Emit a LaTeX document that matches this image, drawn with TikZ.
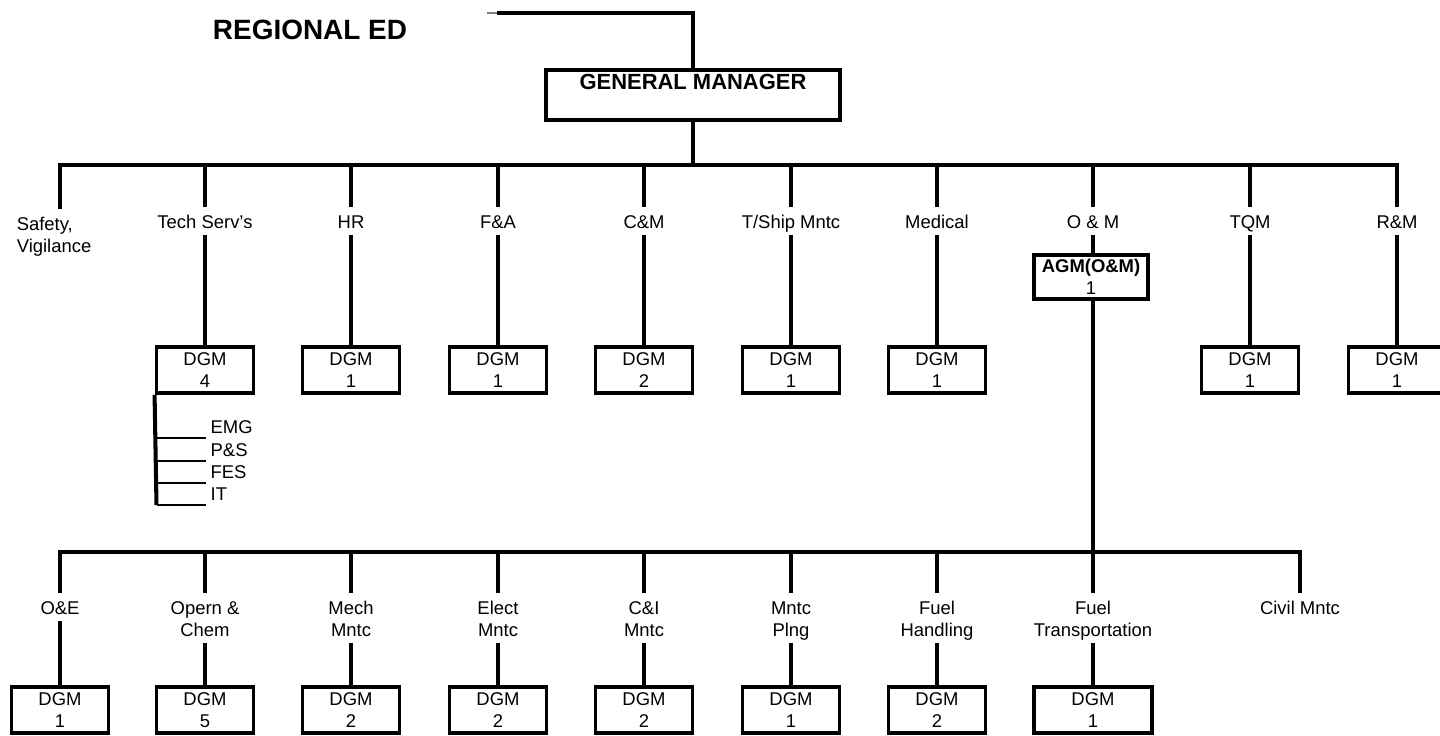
\documentclass[tikz,border=0pt]{standalone}
\usepackage{fontspec}
\setmainfont{Liberation Sans}

\newcommand{\lblfont}{\fontsize{10.5pt}{12.5pt}\selectfont}

\begin{document}
\begin{tikzpicture}[x=0.02cm, y=-0.02cm, line width=2.3pt,
            lbl/.style={align=center, inner xsep=1pt, inner ysep=0pt, font=\lblfont, text height=11.1pt, text depth=2.3pt},
            lbltwo/.style={lbl, text height=23.6pt},
            dgm/.style={draw, line width=2.2pt, align=center, inner sep=0pt, minimum width=1.94cm, minimum height=0.92cm, font=\lblfont},
            sub/.style={anchor=south west, inner sep=1.5pt, font=\lblfont}]
            \useasboundingbox (0,0) rectangle (1440,736);

            \coordinate (tick) at (487, 13);
            \coordinate (top1) at (497, 13);
            \coordinate (top2) at (693, 13);
            \coordinate (tm) at (693, 165);
            \coordinate (t1) at (60, 165);
            \coordinate (t2) at (205, 165);
            \coordinate (t3) at (351, 165);
            \coordinate (t4) at (498, 165);
            \coordinate (t5) at (644, 165);
            \coordinate (t6) at (791, 165);
            \coordinate (t7) at (937, 165);
            \coordinate (t8) at (1093, 165);
            \coordinate (t9) at (1250, 165);
            \coordinate (t10) at (1397, 165);
            \coordinate (b1) at (60, 552);
            \coordinate (b2) at (205, 552);
            \coordinate (b3) at (351, 552);
            \coordinate (b4) at (498, 552);
            \coordinate (b5) at (644, 552);
            \coordinate (b6) at (791, 552);
            \coordinate (b7) at (937, 552);
            \coordinate (b8) at (1093, 552);
            \coordinate (b9) at (1300, 552);
            \coordinate (s1) at (156.5, 438);
            \coordinate (s2) at (156.5, 461);
            \coordinate (s3) at (156.5, 483);
            \coordinate (s4) at (156.5, 505);

            \node[font=\fontsize{15.9pt}{18pt}\selectfont\bfseries] (ed) at (310, 30) {REGIONAL ED};
            \node[draw, line width=2.2pt, minimum width=5.88cm, inner xsep=0pt, inner ysep=2.3pt, text depth=14.7pt,
                  font=\fontsize{12.5pt}{15pt}\selectfont\bfseries] (gm) at (693, 95) {GENERAL MANAGER};

            \node[lbltwo, align=left, anchor=north west] (lsafety) at (13, 209) {Safety,\\Vigilance};
            \node[lbl] (ltech) at (205, 221) {Tech Serv's};
            \node[lbl] (lhr) at (351, 221) {HR};
            \node[lbl] (lfa) at (498, 221) {F\&A};
            \node[lbl] (lcm) at (644, 221) {C\&M};
            \node[lbl] (ltship) at (791, 221) {T/Ship Mntc};
            \node[lbl] (lmed) at (937, 221) {Medical};
            \node[lbl] (lom) at (1093, 221) {O \& M};
            \node[lbl] (ltqm) at (1250, 221) {TQM};
            \node[lbl] (lrm) at (1397, 221) {R\&M};

            \node[dgm] (dtech) at (205, 370) {DGM\\4};
            \node[dgm] (dhr) at (351, 370) {DGM\\1};
            \node[dgm] (dfa) at (498, 370) {DGM\\1};
            \node[dgm] (dcm) at (644, 370) {DGM\\2};
            \node[dgm] (dtship) at (791, 370) {DGM\\1};
            \node[dgm] (dmed) at (937, 370) {DGM\\1};
            \node[dgm] (dtqm) at (1250, 370) {DGM\\1};
            \node[dgm] (drm) at (1397, 370) {DGM\\1};
            \node[dgm, minimum width=2.28cm, minimum height=0.88cm] (agm) at (1091, 277) {\textbf{AGM(O\&M)}\\1};

            \node[sub] (emg) at (206, 438) {EMG};
            \node[sub] (ps) at (206, 461) {P\&S};
            \node[sub] (fes) at (206, 483) {FES};
            \node[sub] (it) at (206, 505) {IT};

            \node[lbl] (loe) at (60, 607) {O\&E};
            \node[lbltwo] (lopern) at (205, 618) {Opern \&\\Chem};
            \node[lbltwo] (lmech) at (351, 618) {Mech\\Mntc};
            \node[lbltwo] (lelect) at (498, 618) {Elect\\Mntc};
            \node[lbltwo] (lci) at (644, 618) {C\&I\\Mntc};
            \node[lbltwo] (lplng) at (791, 618) {Mntc\\Plng};
            \node[lbltwo] (lfuelh) at (937, 618) {Fuel\\Handling};
            \node[lbltwo] (lfuelt) at (1093, 618) {Fuel\\Transportation};
            \node[lbl] (lcivil) at (1300, 607) {Civil Mntc};

            \node[dgm] (doe) at (60, 710) {DGM\\1};
            \node[dgm] (dopern) at (205, 710) {DGM\\5};
            \node[dgm] (dmech) at (351, 710) {DGM\\2};
            \node[dgm] (delect) at (498, 710) {DGM\\2};
            \node[dgm] (dci) at (644, 710) {DGM\\2};
            \node[dgm] (dplng) at (791, 710) {DGM\\1};
            \node[dgm] (dfuelh) at (937, 710) {DGM\\2};
            \node[dgm, minimum width=2.36cm] (dfuelt) at (1093, 710) {DGM\\1};

            \draw[gray, line width=0.8pt] (tick) -- (top1);
            \draw (top1) -- (top2) -- (gm.north);
            \draw (gm.south) -- (tm);
            \draw (lsafety.north -| t1) -- (t1) -- (t10) -- (lrm.north);

            \draw (t2) -- (ltech.north);
            \draw (t3) -- (lhr.north);
            \draw (t4) -- (lfa.north);
            \draw (t5) -- (lcm.north);
            \draw (t6) -- (ltship.north);
            \draw (t7) -- (lmed.north);
            \draw (t8) -- (lom.north);
            \draw (t9) -- (ltqm.north);

            \draw (ltech.south) -- (dtech.north);
            \draw (lhr.south) -- (dhr.north);
            \draw (lfa.south) -- (dfa.north);
            \draw (lcm.south) -- (dcm.north);
            \draw (ltship.south) -- (dtship.north);
            \draw (lmed.south) -- (dmed.north);
            \draw (lom.south) -- (lom.south |- agm.north);
            \draw (ltqm.south) -- (dtqm.north);
            \draw (lrm.south) -- (drm.north);

            \draw (dtech.south west) -- (s4);
            \draw[line width=1.2pt] (s1) -- (emg.south west);
            \draw[line width=1.2pt] (s2) -- (ps.south west);
            \draw[line width=1.2pt] (s3) -- (fes.south west);
            \draw[line width=1.2pt] (s4) -- (it.south west);

            \draw (lom.south |- agm.south) -- (b8);
            \draw (loe.north) -- (b1) -- (b9) -- (lcivil.north);

            \draw (b2) -- (lopern.north);
            \draw (b3) -- (lmech.north);
            \draw (b4) -- (lelect.north);
            \draw (b5) -- (lci.north);
            \draw (b6) -- (lplng.north);
            \draw (b7) -- (lfuelh.north);
            \draw (b8) -- (lfuelt.north);

            \draw (loe.south) -- (doe.north);
            \draw (lopern.south) -- (dopern.north);
            \draw (lmech.south) -- (dmech.north);
            \draw (lelect.south) -- (delect.north);
            \draw (lci.south) -- (dci.north);
            \draw (lplng.south) -- (dplng.north);
            \draw (lfuelh.south) -- (dfuelh.north);
            \draw (lfuelt.south) -- (dfuelt.north);

            \end{tikzpicture}
\end{document}
